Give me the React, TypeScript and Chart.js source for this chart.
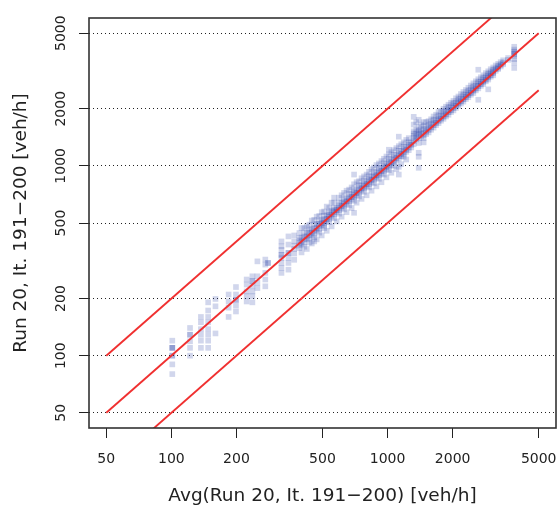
import React, { useEffect, useRef } from "react";
import { Chart, registerables } from "chart.js";

Chart.register(...registerables);

const tickValues = [50, 100, 200, 500, 1000, 2000, 5000];
const axisMin = 41.6;
const axisMax = 6012;

const refLineX = [50, 5000];
const upperLineY = [100, 10000];
const identityLineY = [50, 5000];
const lowerLineY = [25, 2500];

const xTitle = "Avg(Run 20, It. 191\u2212200) [veh/h]";
const yTitle = "Run 20, It. 191\u2212200 [veh/h]";

// main columns of points
const columnX = [
  101, 122, 137, 148, 160, 184, 199, 223, 237, 250, 272, 280, 323, 348, 370, 391, 412, 435, 458, 483,
  509, 537, 566, 597, 629, 664, 700, 738, 778, 821, 865, 912, 962, 1014, 1069, 1127, 1188, 1253, 1321,
  1393, 1468, 1548, 1632, 1721, 1814, 1913, 2017, 2127, 2242, 2364, 2493, 2628, 2771, 2922, 3081, 3248,
  3425, 3611, 3853,
];

const columnY = [
  [120, 110, 110, 110, 100, 100, 90, 80],
  [140, 129, 129, 119, 110, 100],
  [160, 150, 138, 129, 120, 110],
  [191, 173, 160, 150, 138, 129, 120, 110],
  [199, 182, 131],
  [210, 193, 179, 160],
  [230, 210, 197, 197, 184, 171],
  [252, 237, 218, 206, 193],
  [262, 247, 247, 232, 218, 206, 191],
  [314, 262, 242, 227],
  [321, 302, 273, 252, 232],
  [308, 308],
  [400, 377, 361, 340, 340, 327, 308, 290, 273],
  [425, 385, 348, 348, 327, 308, 284],
  [430, 400, 380, 365, 345, 320],
  [443, 417, 405, 393, 380, 369],
  [470, 440, 425, 410, 395, 375],
  [490, 460, 445, 430, 415, 395],
  [520, 490, 470, 455, 440, 420, 400],
  [545, 510, 495, 480, 465, 445],
  [575, 545, 525, 510, 500, 485, 470],
  [600, 570, 555, 540, 525, 505],
  [680, 640, 600, 585, 570, 555, 530],
  [680, 640, 620, 600, 585, 560],
  [720, 670, 650, 630, 615, 590],
  [750, 710, 685, 665, 650, 620],
  [900, 800, 745, 725, 700, 685, 655, 566],
  [830, 790, 765, 740, 720, 690],
  [880, 830, 805, 780, 760, 730],
  [930, 880, 850, 825, 800, 770],
  [980, 925, 895, 870, 845, 810],
  [1030, 975, 945, 915, 890, 855],
  [1090, 1030, 995, 965, 940, 900],
  [1216, 1150, 1085, 1050, 1015, 990, 950],
  [1210, 1140, 1105, 1070, 1040, 1000],
  [1425, 1270, 1200, 1160, 1125, 1090, 989, 900],
  [1330, 1260, 1220, 1190, 1150, 1117],
  [1400, 1330, 1290, 1250, 1210],
  [1813, 1650, 1520, 1480, 1440, 1400, 1350, 1300],
  [1750, 1600, 1530, 1500, 1460, 1400, 1320, 1172, 1117, 977],
  [1700, 1620, 1560, 1500, 1450, 1400, 1330],
  [1720, 1650, 1600, 1550, 1500],
  [1820, 1740, 1690, 1640, 1590],
  [1920, 1830, 1780, 1730, 1680],
  [2000, 1930, 1870, 1820, 1770],
  [2100, 2030, 1970, 1920, 1860],
  [2200, 2130, 2070, 2020, 1960],
  [2320, 2240, 2180, 2130, 2070],
  [2450, 2360, 2300, 2240, 2180],
  [2580, 2480, 2420, 2360, 2300],
  [2720, 2610, 2550, 2490, 2420],
  [3210, 2860, 2760, 2690, 2630, 2560, 2230],
  [3000, 2900, 2830, 2770, 2700],
  [3150, 3050, 2980, 2920, 2850, 2530],
  [3300, 3200, 3130, 3080, 3000],
  [3450, 3350, 3290, 3240],
  [3600, 3500, 3430],
  [3700, 3620],
  [4240, 4100, 4000, 3980, 3900, 3880, 3780, 3650, 3500, 3280],
];

// in-between columns of the dense band
const extraX = [
  400, 423, 446, 470, 496, 523, 551, 581, 613, 646, 682, 719, 758, 800, 843, 888, 937, 988, 1041, 1098,
  1157, 1220, 1287, 1357, 1430, 1508, 1590, 1676, 1767, 1863, 1965, 2072, 2184, 2303, 2428, 2560, 2700,
  2846, 3000, 3164, 3336,
];

const extraY = [
  [470, 420, 400, 385, 350],
  [480, 445, 425, 410, 365],
  [515, 465, 445, 430, 390],
  [540, 495, 470, 455, 410],
  [570, 520, 500, 485, 430],
  [610, 550, 525, 510, 455],
  [640, 580, 555, 540, 480],
  [600, 585, 570, 510],
  [700, 640, 615, 600, 540],
  [740, 675, 650, 630, 570],
  [770, 710, 685, 665, 600],
  [820, 750, 720, 700, 640],
  [860, 790, 760, 740, 670],
  [900, 830, 800, 780, 700],
  [960, 880, 845, 820, 740],
  [1010, 925, 890, 865, 780],
  [1060, 975, 940, 910, 820],
  [1120, 1030, 990, 960, 870],
  [1180, 1085, 1040, 1010, 920],
  [1240, 1140, 1100, 1065, 960],
  [1300, 1200, 1160, 1125, 1020],
  [1370, 1270, 1220, 1185, 1080],
  [1330, 1290, 1250],
  [1700, 1550, 1480, 1420, 1380],
  [1650, 1550, 1480, 1430],
  [1700, 1580, 1520, 1470],
  [1760, 1660, 1600, 1550],
  [1860, 1750, 1690, 1640],
  [1950, 1840, 1780, 1730],
  [2050, 1940, 1870, 1820],
  [2150, 2040, 1970, 1920],
  [2270, 2150, 2080, 2020],
  [2390, 2260, 2190, 2130],
  [2510, 2380, 2310, 2250],
  [2650, 2510, 2430, 2370],
  [2790, 2640, 2560, 2500],
  [2930, 2780, 2700, 2640],
  [3080, 2930, 2850, 2790],
  [3230, 3080, 3010, 2950],
  [3380, 3240, 3170],
  [3520, 3400, 3340],
];

const FONT = "DejaVu Sans";

export default function App() {
  const ref = useRef<HTMLCanvasElement>(null);

  useEffect(() => {
    if (!ref.current) return;
    const toPoints = (xs: number[], yss: number[][]) =>
      xs.flatMap((x, i) => yss[i].map((y) => ({ x, y })));
    const points = [...toPoints(columnX, columnY), ...toPoints(extraX, extraY)];
    const lineOf = (ys: number[]) => refLineX.map((x, i) => ({ x, y: ys[i] }));

    const boxPlugin = {
      id: "plotBox",
      afterDraw(chart: any) {
        const { ctx, chartArea } = chart;
        const { left, top, right, bottom } = chartArea;
        ctx.save();
        ctx.strokeStyle = "#333";
        ctx.lineWidth = 1.6;
        ctx.strokeRect(left, top, right - left, bottom - top);
        ctx.restore();
      },
    };

    const redLine = (ys: number[]) => ({
      type: "line" as const,
      data: lineOf(ys),
      borderColor: "#f03030",
      borderWidth: 1.9,
      pointRadius: 0,
      fill: false,
      order: 0,
    });

    const chart = new Chart(ref.current, {
      type: "scatter",
      data: {
        datasets: [
          {
            type: "scatter",
            data: points,
            pointStyle: "rect",
            pointRadius: 4,
            pointBackgroundColor: "rgba(40,60,165,0.21)",
            pointBorderWidth: 0,
            order: 1,
          },
          redLine(upperLineY),
          redLine(identityLineY),
          redLine(lowerLineY),
        ] as any,
      },
      options: {
        animation: false,
        responsive: false,
        devicePixelRatio: 1,
        layout: { padding: { left: 0, right: 1, top: 18, bottom: 0 } },
        plugins: { legend: { display: false }, tooltip: { enabled: false } },
        scales: {
          x: {
            type: "logarithmic",
            min: axisMin,
            max: axisMax,
            afterBuildTicks(s: any) {
              s.ticks = tickValues.map((v) => ({ value: v }));
            },
            afterFit(s: any) {
              s.height = 81;
              s.paddingLeft = 0;
              s.paddingRight = 0;
            },
            ticks: {
              callback: (v: any) => String(v),
              font: { family: FONT, size: 14 },
              color: "#222",
              padding: 12.5,
              autoSkip: false,
              minRotation: 0,
              maxRotation: 0,
            },
            grid: {
              drawOnChartArea: false,
              drawTicks: true,
              tickLength: 10,
              tickColor: "#222",
              tickWidth: 1,
            },
            border: { display: false },
            title: {
              display: true,
              text: xTitle,
              font: { family: FONT, size: 18.5 },
              color: "#222",
              padding: { top: 0, bottom: 2 },
            },
          },
          y: {
            type: "logarithmic",
            min: axisMin,
            max: axisMax,
            afterBuildTicks(s: any) {
              s.ticks = tickValues.map((v) => ({ value: v }));
            },
            afterFit(s: any) {
              s.width = 89;
              s.paddingTop = 0;
              s.paddingBottom = 0;
            },
            ticks: {
              callback: (v: any) => String(v),
              font: { family: FONT, size: 14 },
              color: "#222",
              padding: 0,
              autoSkip: false,
              minRotation: 90,
              maxRotation: 90,
              crossAlign: "center",
            },
            grid: {
              drawOnChartArea: true,
              drawTicks: true,
              tickLength: 10,
              color: "#222",
              lineWidth: 1,
              tickColor: "#222",
              tickWidth: 1,
            },
            border: { display: false, dash: [1, 3] },
            title: {
              display: true,
              text: yTitle,
              font: { family: FONT, size: 18.5 },
              color: "#222",
              padding: { top: 10, bottom: 0 },
            },
          },
        },
      } as any,
      plugins: [boxPlugin],
    });

    return () => chart.destroy();
  }, []);

  return (
    <div style={{ position: "fixed", left: 0, top: 0, width: 560, height: 509, background: "#fff" }}>
      <canvas ref={ref} width={560} height={509} style={{ display: "block", width: 560, height: 509 }} />
    </div>
  );
}
